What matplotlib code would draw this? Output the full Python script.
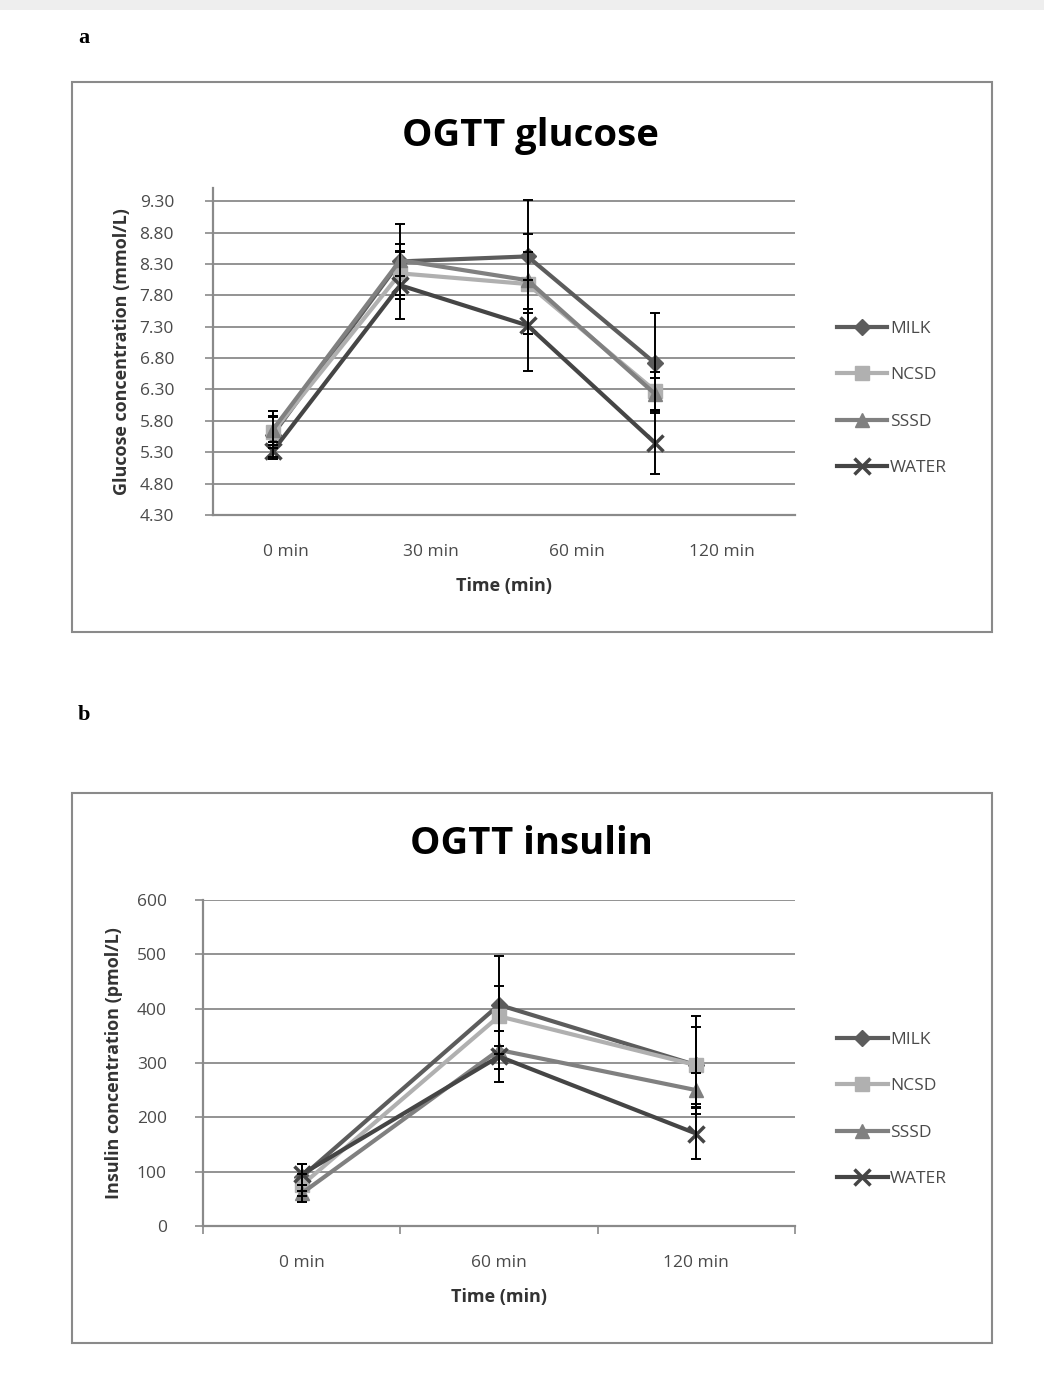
import matplotlib.pyplot as plt
from matplotlib.patches import Rectangle
import numpy as np

plt.rcParams['font.family'] = ['Open Sans', 'DejaVu Sans']

# Data
groups = ['MILK', 'NCSD', 'SSSD', 'WATER']
colors = ['#5c5c5c', '#b0b0b0', '#808080', '#454545']
markers = ['D', 's', '^', 'x']
msizes = [8, 10, 10, 12]

glu_times = ['0 min', '30 min', '60 min', '120 min']
glu_mean = {
    'MILK':  [5.58, 8.34, 8.42, 6.72],
    'NCSD':  [5.62, 8.15, 7.98, 6.28],
    'SSSD':  [5.66, 8.36, 8.04, 6.23],
    'WATER': [5.32, 7.96, 7.32, 5.45],
}
glu_err = {
    'MILK':  [0.38, 0.60, 0.90, 0.80],
    'NCSD':  [0.25, 0.35, 0.80, 0.30],
    'SSSD':  [0.20, 0.25, 0.45, 0.25],
    'WATER': [0.10, 0.53, 0.72, 0.50],
}
glu_ticks = [4.30, 4.80, 5.30, 5.80, 6.30, 6.80, 7.30, 7.80, 8.30, 8.80, 9.30]

ins_times = ['0 min', '60 min', '120 min']
ins_mean = {
    'MILK':  [90, 407, 296],
    'NCSD':  [75, 386, 296],
    'SSSD':  [60, 324, 250],
    'WATER': [95, 312, 170],
}
ins_err = {
    'MILK':  [25, 90, 90],
    'NCSD':  [20, 55, 71],
    'SSSD':  [15, 35, 31],
    'WATER': [20, 47, 47],
}
ins_ticks = [0, 100, 200, 300, 400, 500, 600]

W, H = 1044, 1376
fig = plt.figure(figsize=(W / 100, H / 100), dpi=100)

# light gray strip at the top of the page
fig.patches.append(Rectangle((0, 1 - 10 / H), 1, 10 / H, transform=fig.transFigure,
                             facecolor='#eeeeee', edgecolor='none'))

def box(x0, y0, x1, y1):
    fig.patches.append(Rectangle((x0 / W, 1 - y1 / H), (x1 - x0) / W, (y1 - y0) / H,
                                 transform=fig.transFigure, facecolor='none',
                                 edgecolor='#8a8a8a', lw=1.5))

def ax_at(x0, y0, x1, y1):
    return fig.add_axes([x0 / W, 1 - y1 / H, (x1 - x0) / W, (y1 - y0) / H])

def style(ax, ticks, fmt, pad):
    for s in ['top', 'right']:
        ax.spines[s].set_visible(False)
    for s in ['left', 'bottom']:
        ax.spines[s].set_color('#8a8a8a')
        ax.spines[s].set_linewidth(1.6)
    ax.set_yticks(ticks)
    ax.set_yticklabels([fmt.format(t) for t in ticks])
    ax.yaxis.grid(True, color='#8a8a8a', lw=1.3)
    ax.set_axisbelow(True)
    ax.tick_params(axis='y', length=6, width=1.2, color='#8a8a8a', pad=pad,
                   labelsize=12.5, labelcolor='#4a4a4a')
    ax.tick_params(axis='x', labelsize=12.5, labelcolor='#4a4a4a', pad=21)

def draw(ax, n, mean, err):
    x = np.arange(n)
    handles = []
    for g, c, m, ms in zip(groups, colors, markers, msizes):
        h, = ax.plot(x, mean[g], color=c, lw=3, marker=m, ms=ms, mew=2.5 if m == 'x' else 1,
                     mec=c, mfc=c, label=g, zorder=3)
        ax.errorbar(x, mean[g], yerr=err[g], fmt='none', ecolor='black', elinewidth=1.4,
                    capsize=3.5, capthick=1.4, zorder=4)
        handles.append(h)
    return handles

legend_kw = dict(loc='center left', frameon=False, fontsize=12.5, labelspacing=1.75,
                 handlelength=2.9, handletextpad=0.15, labelcolor='#4a4a4a')

# ---- panel a: glucose ----
fig.text(78 / W, 1 - 38 / H, 'a', family='Liberation Serif', weight='bold', fontsize=16,
         va='center')
box(72, 82, 992, 632)
ax1 = ax_at(213, 188, 795, 515)
h1 = draw(ax1, 4, glu_mean, glu_err)
ax1.set_xlim(-0.47, 4.10)
ax1.set_ylim(4.30, 9.51)
style(ax1, glu_ticks, '{:.2f}', 22)
lo, hi = ax1.get_xlim()
step = (hi - lo) / len(glu_times)
ax1.set_xticks([lo + (i + 0.5) * step for i in range(len(glu_times))])
ax1.set_xticklabels(glu_times)
ax1.tick_params(axis='x', length=0)
ax1.set_title('OGTT glucose', fontsize=27.5, weight='bold', pad=30, x=0.545)
ax1.set_xlabel('Time (min)', fontsize=13, weight='bold', color='#333333', labelpad=12)
ax1.set_ylabel('Glucose concentration (mmol/L)', fontsize=13, weight='bold',
               color='#333333', labelpad=6)
ax1.legend(handles=h1, bbox_to_anchor=(1.045, 0.356), **legend_kw)

# ---- panel b: insulin ----
fig.text(78 / W, 1 - 715 / H, 'b', family='Liberation Serif', weight='bold', fontsize=16,
         va='center')
box(72, 793, 992, 1343)
ax2 = ax_at(203, 900, 795, 1226)
h2 = draw(ax2, 3, ins_mean, ins_err)
ax2.set_xlim(-0.5, 2.5)
ax2.set_ylim(0, 600)
style(ax2, ins_ticks, '{:d}', 20)
ax2.set_xticks(range(3))
ax2.set_xticklabels(ins_times)
ax2.set_xticks([-0.5, 0.5, 1.5, 2.5], minor=True)
ax2.tick_params(axis='x', which='major', length=0)
ax2.tick_params(axis='x', which='minor', length=6, width=1.2, color='#8a8a8a')
ax2.set_title('OGTT insulin', fontsize=27.5, weight='bold', pad=33, x=0.554)
ax2.set_xlabel('Time (min)', fontsize=13, weight='bold', color='#333333', labelpad=12)
ax2.set_ylabel('Insulin concentration (pmol/L)', fontsize=13, weight='bold',
               color='#333333', labelpad=10)
ax2.legend(handles=h2, bbox_to_anchor=(1.045, 0.357), **legend_kw)

fig.savefig('out.png', dpi=100)
